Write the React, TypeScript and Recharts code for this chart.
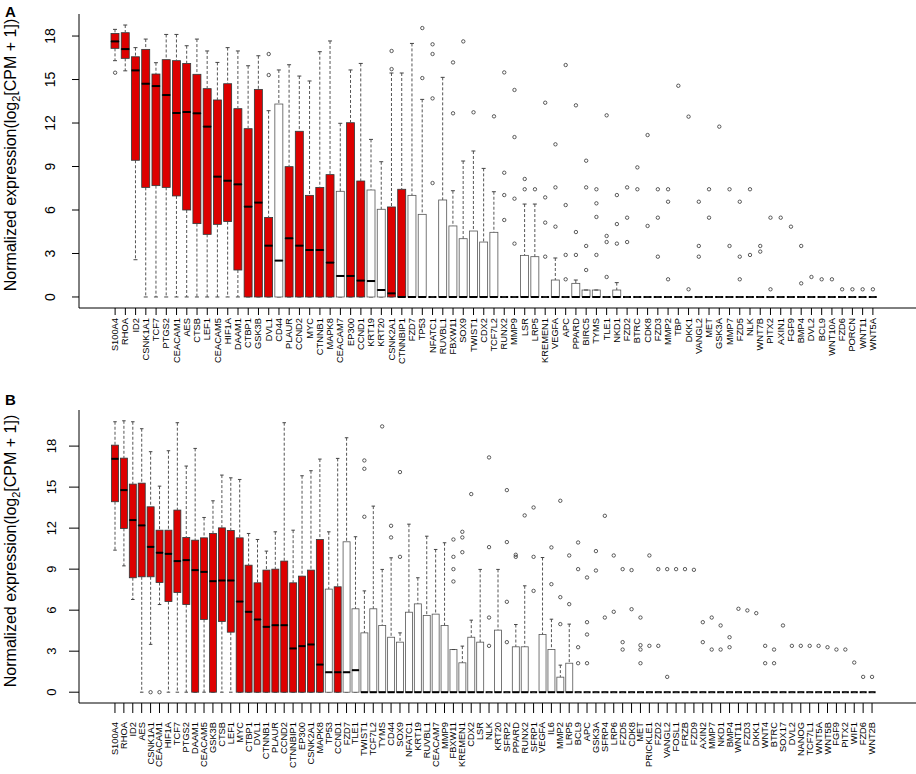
import React from "react";
import { ComposedChart, Bar, Line, XAxis, YAxis } from "recharts";

// ---- panel A ----
const namesA = ["S100A4","RHOA","ID2","CSNK1A1","TCF7","PTGS2","CEACAM1","AES","CTSB","LEF1","CEACAM5","HIF1A","DAAM1","CTBP1","GSK3B","DVL1","CD44","PLAUR","CCND2","MYC","CTNNB1","MAPK8","CEACAM7","EP300","CCND1","KRT19","KRT20","CSNK2A1","CTNNBIP1","FZD7","TP53","NFATC1","RUVBL1","FBXW11","SOX9","TWIST1","CDX2","TCF7L2","RUNX2","MMP9","LSR","LRP5","KREMEN1","VEGFA","APC","PPARD","BIRC5","TYMS","TLE1","NKD1","FZD2","BTRC","CDK8","FZD3","MMP2","TBP","DKK1","VANGL2","MET","GSK3A","MMP7","FZD5","NLK","WNT7B","PITX2","AXIN1","FGF9","BMP4","DVL2","BCL9","WNT10A","FZD6","PORCN","WNT11","WNT5A"];
const loA = [16.3,15.6,2.57,0,0,0,0,0,0,0,0,0,0,0,0,0,0,0,0,0,0,0,0,0,0,0,0,0,0,0,0,0,0,0,0,0,0,0,0,0,0,0,0,0,0,0,0,0,0,0,0,0,0,0,0,0,0,0,0,0,0,0,0,0,0,0,0,0,0,0,0,0,0,0,0];
const q1A = [17.15,16.46,9.43,7.56,7.68,7.56,6.97,6.0,5.06,4.32,5.01,5.2,1.86,0,0,0,0,0,0,0,0,0,0,0,0,0,0,0,0,0,0,0,0,0,0,0,0,0,0,0,0,0,0,0,0,0,0,0,0,0,0,0,0,0,0,0,0,0,0,0,0,0,0,0,0,0,0,0,0,0,0,0,0,0,0];
const medA = [17.63,17.1,15.63,14.71,14.55,13.93,12.69,12.76,12.67,11.75,8.3,8.02,7.77,6.23,6.51,3.54,2.51,4.05,3.54,3.24,3.24,2.37,1.45,1.45,1.13,1.1,0.48,0.25,0,0,0,0,0,0,0,0,0,0,0,0,0,0,0,0,0,0,0,0,0,0,0,0,0,0,0,0,0,0,0,0,0,0,0,0,0,0,0,0,0,0,0,0,0,0,0];
const q3A = [18.18,18.23,16.57,17.08,15.38,16.37,16.3,16.11,15.36,14.37,13.59,14.71,12.99,11.61,14.32,5.49,13.31,8.99,11.43,7.01,7.56,8.44,7.29,12.02,8.0,7.38,6.05,6.21,7.43,7.01,5.7,0,6.69,4.9,4.02,4.55,3.79,4.46,0,0,2.87,2.78,0,1.17,0,0.94,0.48,0.48,0,0.48,0,0,0,0,0,0,0,0,0,0,0,0,0,0,0,0,0,0,0,0,0,0,0,0,0];
const hiA = [18.46,18.76,17.2,17.79,16.16,18.11,18.11,17.33,17.79,16.97,16.18,17.2,16.97,15.95,16.64,12.85,15.66,16.02,15.24,14.9,16.92,17.66,11.98,15.66,16.11,10.87,9.33,15.45,15.45,17.49,13.63,0,15.15,7.33,9.38,10.07,8.87,7.26,0,0,6.41,6.41,0,2.69,0,1.17,0.48,0.48,0,0.99,0,0,0,0,0,0,0,0,0,0,0,0,0,0,0,0,0,0,0,0,0,0,0,0,0];
const redA = ["S100A4","RHOA","ID2","CSNK1A1","TCF7","PTGS2","CEACAM1","AES","CTSB","LEF1","CEACAM5","HIF1A","DAAM1","CTBP1","GSK3B","DVL1","PLAUR","CCND2","MYC","CTNNB1","MAPK8","EP300","CCND1","CSNK2A1","CTNNBIP1"];
const outA = [[15.47],[],[],[],[],[],[],[],[],[],[],[],[],[],[],[16.76,15.31],[],[],[],[],[],[],[],[],[],[],[],[16.97,15.72],[],[],[18.55,15.1],[17.43,16.76,13.7,7.86],[],[16.18,12.67],[17.63],[12.74],[],[12.46],[15.49,8.57,7.03,5.31],[14.28,11.03,6.78,3.68],[8.14,7.43],[7.43],[13.4,6.87,5.13,2.78],[10.53,7.56,4.85],[16.0,6.34,2.9,1.22],[13.22,4.48,2.9],[9.4,7.56,3.52,1.86],[7.43,6.46,5.52,2.9],[12.53,4.21,3.79,1.38],[7.03,5.03,3.68],[7.56,5.47,3.79],[8.94,7.43],[11.17,4.9],[7.43,5.47,2.78],[7.43,6.57,1.22],[14.57],[12.44,0.53],[6.57,3.52,2.78],[7.43,5.47],[11.75],[7.43,3.52],[6.57,2.78,1.22],[7.43,2.9],[3.52,3.13],[5.47,0.53],[5.47],[4.85],[3.52,0.94],[1.38],[1.22],[1.22],[0.53],[0.53],[0.53],[0.53]];

// ---- panel B ----
const namesB = ["S100A4","RHOA","ID2","AES","CSNK1A1","CEACAM1","HIF1A","TCF7","PTGS2","DAAM1","CEACAM5","GSK3B","CTSB","LEF1","MYC","CTBP1","DVL1","CTNNB1","PLAUR","CCND2","CTNNBIP1","EP300","CSNK2A1","MAPK8","TP53","CCND1","FZD7","TLE1","TWIST1","TCF7L2","TYMS","CD44","SOX9","NFATC1","KRT19","RUVBL1","CEACAM7","MMP9","FBXW11","KREMEN1","CDX2","LSR","NLK","KRT20","SFRP2","PPARD","RUNX2","SFRP1","VEGFA","IL6","MMP2","LRP5","BCL9","APC","GSK3A","SFRP4","LRP6","FZD5","CDK8","MET","PRICKLE1","FZD2","VANGL2","FOSL1","FRZB","FZD9","AXIN2","MMP7","NKD1","BMP4","WNT11","FZD3","DKK1","WNT4","BTRC","SOX17","DVL2","NANOG","TCF7L1","WNT5A","WNT5B","FGF9","PITX2","WIF1","FZD6","WNT2B"];
const loB = [10.39,9.24,6.78,0,3.5,6.41,0,0,0,0,0,0,0,0,0,0,0,0,0,0,0,0,0,0,0,0,0,0,0,0,0,0,0,0,0,0,0,0,0,0,0,0,0,0,0,0,0,0,0,0,0,0,0,0,0,0,0,0,0,0,0,0,0,0,0,0,0,0,0,0,0,0,0,0,0,0,0,0,0,0,0,0,0,0,0,0];
const q1B = [13.93,11.98,8.37,8.44,8.44,8.02,6.63,7.29,6.41,0,5.32,0,5.17,4.39,0,0,0,0,0,0,0,0,0,0,0,0,0,0,0,0,0,0,0,0,0,0,0,0,0,0,0,0,0,0,0,0,0,0,0,0,0,0,0,0,0,0,0,0,0,0,0,0,0,0,0,0,0,0,0,0,0,0,0,0,0,0,0,0,0,0,0,0,0,0,0,0];
const medB = [17.07,14.78,12.59,12.2,10.63,10.2,10.12,9.59,9.66,8.93,8.8,8.12,8.17,8.17,6.63,5.88,5.32,4.78,4.9,4.9,3.2,3.37,3.49,2.02,1.46,1.46,1.46,1.61,0,0,0,0,0,0,0,0,0,0,0,0,0,0,0,0,0,0,0,0,0,0,0,0,0,0,0,0,0,0,0,0,0,0,0,0,0,0,0,0,0,0,0,0,0,0,0,0,0,0,0,0,0,0,0,0,0,0];
const q3B = [18.07,17.12,15.22,15.29,13.56,11.85,11.85,13.32,11.32,11.12,11.29,11.61,12.02,11.83,11.29,9.29,8.0,8.93,9.0,9.59,8.0,8.49,8.93,11.17,7.54,7.71,11.0,6.1,4.34,6.1,4.88,4.02,3.66,5.85,6.46,5.61,5.71,4.88,3.12,2.15,4.02,3.66,0,4.54,0,3.32,3.32,0,4.22,3.12,1.1,2.12,0,0,0,0,0,0,0,0,0,0,0,0,0,0,0,0,0,0,0,0,0,0,0,0,0,0,0,0,0,0,0,0,0,0];
const hiB = [19.78,19.85,19.78,19.27,17.59,15.07,17.66,19.71,16.54,17.83,12.78,14.0,15.88,15.68,15.56,11.61,11.17,10.32,11.73,19.71,11.85,15.83,16.2,17.05,11.73,17.1,18.61,11.37,7.41,13.61,8.98,9.83,4.34,12.29,8.37,11.41,10.44,10.93,3.12,3.37,5.27,8.98,0,8.98,0,4.95,7.78,0,9.85,5.34,1.98,4.98,0,0,0,0,0,0,0,0,0,0,0,0,0,0,0,0,0,0,0,0,0,0,0,0,0,0,0,0,0,0,0,0,0,0];
const redB = ["S100A4","RHOA","ID2","AES","CSNK1A1","CEACAM1","HIF1A","TCF7","PTGS2","DAAM1","CEACAM5","GSK3B","CTSB","LEF1","MYC","CTBP1","DVL1","CTNNB1","PLAUR","CCND2","CTNNBIP1","EP300","CSNK2A1","MAPK8","CCND1"];
const outB = [[],[],[],[],[0],[0],[],[],[],[],[],[],[],[],[],[],[],[],[],[],[],[],[],[],[],[],[],[],[16.95,16.34,12.83],[],[19.44],[12.17,11.32],[16.1,9.9],[],[],[],[],[],[11.17,9.9,9.0,8.1],[11.73,11.32,10.24],[14.49],[],[17.17,10.61,5.46,3.39],[],[14.78,10.98,6.61,3.66],[10.05,9.9],[12.93],[13.51,9.9,7.41],[],[10.59,7.9],[14.0,6.95,4.98],[10.0,6.44],[10.95,9.0,3.29,2.12],[8.39,5.12,4.22,2.12],[10.32,8.9],[12.9,5.46],[10.0,5.88],[9.0,3.66,3.12],[8.93,6.07],[5.46,3.44,3.12,2.12],[10.0,3.39],[9.0,3.39],[9.0,1.12],[9.0],[9.0],[8.95],[5.12,3.66],[5.46,3.12],[4.88,3.12],[4.02,3.29],[6.1],[5.98],[5.78],[3.39,2.12],[3.12,2.12],[4.88],[3.39],[3.39],[3.39],[3.39],[3.29],[3.12],[3.12],[2.17],[1.12],[1.12]];

const yTicks = [0, 3, 6, 9, 12, 15, 18];
const outKeys = ["o1", "o2", "o3", "o4"];

const RED = "#dd0000";
const FONT = "Liberation Sans, Arial, sans-serif";

const buildRows = (names, lo, q1, med, q3, hi, red, out) =>
	names.map((name, i) => ({
		name,
		base: lo[i],
		wLow: q1[i] - lo[i],
		bLow: med[i] - q1[i],
		bHigh: q3[i] - med[i],
		wHigh: hi[i] - q3[i],
		red: red.includes(name),
		o1: out[i][0] ?? null,
		o2: out[i][1] ?? null,
		o3: out[i][2] ?? null,
		o4: out[i][3] ?? null,
	}));

const rowsA = buildRows(namesA, loA, q1A, medA, q3A, hiA, redA, outA);
const rowsB = buildRows(namesB, loB, q1B, medB, q3B, hiB, redB, outB);

const Empty = () => <g />;

const WhiskerLow = (p) => {
	const cx = p.x + p.width / 2;
	const end = p.y + p.height;
	const half = p.width * 0.25;
	return (
		<g>
			<line x1={cx} x2={cx} y1={p.y} y2={end} stroke="#555" strokeDasharray="3 2" />
			<line x1={cx - half} x2={cx + half} y1={end} y2={end} stroke="#444" />
		</g>
	);
};

const WhiskerHigh = (p) => {
	const cx = p.x + p.width / 2;
	const half = p.width * 0.25;
	return (
		<g>
			<line x1={cx} x2={cx} y1={p.y} y2={p.y + p.height} stroke="#555" strokeDasharray="3 2" />
			<line x1={cx - half} x2={cx + half} y1={p.y} y2={p.y} stroke="#444" />
		</g>
	);
};

const BoxLow = (p) => (
	<rect x={p.x} y={p.y} width={p.width} height={Math.max(p.height, 0)} fill={p.payload.red ? RED : "#fff"} stroke={p.payload.red ? "#2d3a3a" : "#555"} strokeWidth={0.8} />
);

const BoxHigh = (p) => (
	<g>
		<rect x={p.x} y={p.y} width={p.width} height={Math.max(p.height, 0)} fill={p.payload.red ? RED : "#fff"} stroke={p.payload.red ? "#2d3a3a" : "#555"} strokeWidth={0.8} />
		<line x1={p.x} x2={p.x + p.width} y1={p.y + p.height} y2={p.y + p.height} stroke="#000" strokeWidth={2} />
	</g>
);

const OutDot = (p) => {
	if (p.value == null || p.cy == null || !isFinite(p.cy)) return null;
	return <circle cx={p.cx} cy={p.cy} r={1.7} fill="none" stroke="#333" strokeWidth={0.8} />;
};

const GeneTick = (p) => {
	const y = p.y + p.shift;
	return (
		<text x={p.x} y={y} transform={`rotate(-90 ${p.x} ${y})`} textAnchor="end" dominantBaseline="central" fontSize={9.3} fontFamily={FONT} fill="#000">
			{p.payload.value}
		</text>
	);
};

const ValueTick = (p) => (
	<text x={p.labelX} y={p.y} transform={`rotate(-90 ${p.labelX} ${p.y})`} textAnchor="middle" fontSize={p.size} fontFamily={FONT} fill="#000">
		{p.payload.value}
	</text>
);

const Panel = ({ rows, top, xHeight, domain, pad, tickLen, labelShift, labelX, valueSize, boxW }) => (
	<ComposedChart width={916} height={387} data={rows} margin={{ top, right: 0, bottom: 0, left: 0 }}>
		<XAxis dataKey="name" interval={0} height={xHeight} padding={pad} tickSize={tickLen} axisLine={{ stroke: "#000" }} tickLine={{ stroke: "#000" }} tick={<GeneTick shift={labelShift} />} />
		<YAxis width={79} domain={domain} allowDataOverflow ticks={yTicks} tickSize={tickLen} axisLine={{ stroke: "#000" }} tickLine={{ stroke: "#000" }} tick={<ValueTick labelX={labelX} size={valueSize} />} />
		<Bar dataKey="base" stackId="box" barSize={boxW} shape={Empty} isAnimationActive={false} />
		<Bar dataKey="wLow" stackId="box" barSize={boxW} shape={WhiskerLow} isAnimationActive={false} />
		<Bar dataKey="bLow" stackId="box" barSize={boxW} shape={BoxLow} isAnimationActive={false} />
		<Bar dataKey="bHigh" stackId="box" barSize={boxW} shape={BoxHigh} isAnimationActive={false} />
		<Bar dataKey="wHigh" stackId="box" barSize={boxW} shape={WhiskerHigh} isAnimationActive={false} />
		{outKeys.map((k) => (
			<Line key={k} dataKey={k} stroke="none" dot={<OutDot />} activeDot={false} isAnimationActive={false} />
		))}
	</ComposedChart>
);

const Title = ({ cy }) => (
	<text transform={`translate(15.5 ${cy}) rotate(-90)`} textAnchor="middle" fontSize={16} fontFamily={FONT} fill="#000">
		Normalized expression(log
		<tspan fontSize={11} dy={4}>2</tspan>
		<tspan dy={-4}>[CPM + 1])</tspan>
	</text>
);

export default function App() {
	return (
		<div style={{ position: "absolute", left: 0, top: 0, width: 916, height: 774, background: "#fff" }}>
			<Panel rows={rowsA} top={14} xHeight={79} domain={[-0.76, 19.52]} pad={{ left: 31, right: 38 }} tickLen={7} labelShift={1} labelX={55} valueSize={14} boxW={8} />
			<Panel rows={rowsB} top={23} xHeight={71} domain={[-0.79, 20.64]} pad={{ left: 31.5, right: 39.5 }} tickLen={10} labelShift={7} labelX={56} valueSize={13} boxW={7} />
			<svg width={916} height={774} style={{ position: "absolute", left: 0, top: 0, pointerEvents: "none" }}>
				<text x={5} y={17} fontSize={15} fontWeight="bold" fontFamily={FONT}>A</text>
				<text x={5} y={405} fontSize={15} fontWeight="bold" fontFamily={FONT}>B</text>
				<Title cy={155} />
				<Title cy={551} />
			</svg>
		</div>
	);
}
